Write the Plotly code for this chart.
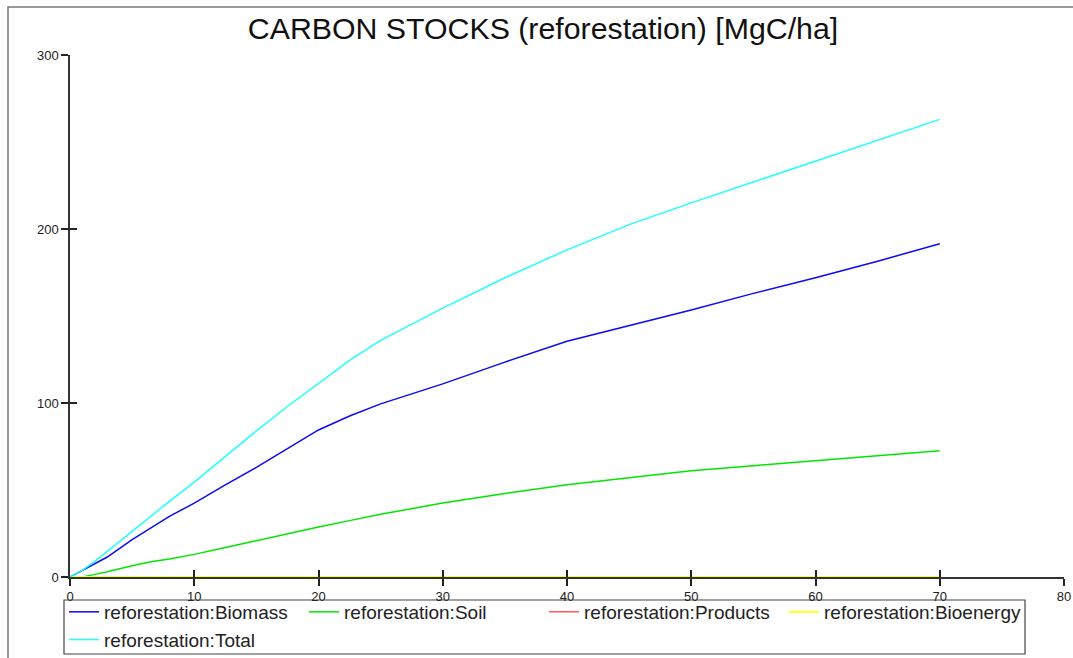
import plotly.graph_objects as go

years = [0, 1, 2, 3, 5, 6.5, 8, 10, 12.5, 15, 17.5, 20, 22.5, 25, 30, 35, 40, 45, 50, 55, 60, 65, 70]
biomass = [0, 3.8, 7.6, 11.5, 21.5, 28.3, 34.8, 42.5, 53, 63, 74, 84.5, 92.5, 99.5, 111, 123.5, 135.5, 144.5, 153.5, 163, 172, 181.5, 191.5]
soil = [0, 0, 1.5, 3, 6.5, 8.8, 10.3, 13, 17, 21, 24.8, 28.7, 32.4, 36, 42.5, 48, 53, 57, 61, 64, 67, 70, 72.6]
products = [0] * len(years)
bioenergy = [0] * len(years)
total = [0, 4, 9, 14.8, 26.5, 35, 43.5, 54.5, 69.5, 84, 98, 111.5, 124.5, 136, 154.5, 172, 188, 202.5, 215, 227, 239, 251, 263]

series_names = ["reforestation:Biomass", "reforestation:Soil", "reforestation:Products",
                "reforestation:Bioenergy", "reforestation:Total"]
series_values = [biomass, soil, products, bioenergy, total]
series_colors = ["#0a0af5", "#00e600", "#ff0000", "#ffff30", "#20ffff"]
series_widths = [1.5, 1.5, 1.0, 2.2, 1.5]

x_ticks = [0, 10, 20, 30, 40, 50, 60, 70, 80]
y_ticks = [0, 100, 200, 300]

fig = go.Figure()
for name, vals, col, w in zip(series_names, series_values, series_colors, series_widths):
    fig.add_trace(go.Scatter(x=years, y=vals, mode="lines", name=name,
                             line=dict(color=col, width=w), hoverinfo="skip"))

# helper trace for overlay axes (inside tick marks)
fig.add_trace(go.Scatter(x=years, y=products, xaxis="x2", yaxis="y2", mode="lines",
                         line=dict(width=0), opacity=0, showlegend=False, hoverinfo="skip"))

W, H = 1073, 658
ml, mr, mt, mb = 70, 9, 55, 81
pw, ph = W - ml - mr, H - mt - mb

def px_x(p):
    return (p - ml) / pw

def px_y(p):
    return (H - mb - p) / ph

FONT = "Liberation Sans, Arial, sans-serif"
axis_font = dict(family=FONT, size=13, color="#222")
common_x = dict(range=[0, 80], tickvals=x_ticks, showgrid=False, zeroline=False)
common_y = dict(range=[0, 300], tickvals=y_ticks, showgrid=False, zeroline=False)

fig.update_layout(
    width=W, height=H,
    margin=dict(l=ml, r=mr, t=mt, b=mb, autoexpand=False),
    paper_bgcolor="white", plot_bgcolor="white",
    title=dict(text="CARBON STOCKS (reforestation) [MgC/ha]",
               font=dict(family=FONT, size=30.3, color="#111"),
               x=543 / W, xanchor="center", xref="container",
               y=1 - 28 / H, yanchor="middle", yref="container"),
    xaxis=dict(**common_x, showline=True, linecolor="#333", linewidth=1.5,
               ticks="outside", ticklen=7, tickcolor="#222", tickwidth=1.5,
               tickfont=axis_font, layer="below traces"),
    yaxis=dict(**common_y, showline=True, linecolor="#333", linewidth=1.5,
               ticks="outside", ticklen=7, tickcolor="#222", tickwidth=1.5,
               tickfont=axis_font, layer="below traces"),
    xaxis2=dict(**common_x, overlaying="x", anchor="y", side="bottom",
                showline=False, ticks="inside", ticklen=7, tickcolor="#222",
                tickwidth=1.5, showticklabels=False),
    yaxis2=dict(**common_y, overlaying="y", anchor="x", side="left",
                showline=False, ticks="inside", ticklen=7, tickcolor="#222",
                tickwidth=1.5, showticklabels=False),
    legend=dict(orientation="h", xref="container", yref="container",
                x=64 / W, xanchor="left", y=1 - 593 / H, yanchor="top",
                borderwidth=0, bgcolor="rgba(0,0,0,0)",
                font=dict(family=FONT, size=19, color="#222"),
                itemwidth=30, entrywidth=195, entrywidthmode="pixels"),
    showlegend=True,
)

# outer window frame
fig.add_shape(type="rect", xref="paper", yref="paper",
              x0=px_x(8), x1=px_x(W + 10), y0=px_y(H + 10), y1=px_y(7),
              line=dict(color="#777", width=1.5), fillcolor="rgba(0,0,0,0)", layer="below")
# legend box
fig.add_shape(type="rect", xref="paper", yref="paper",
              x0=px_x(64), x1=px_x(1025), y0=px_y(654), y1=px_y(600),
              line=dict(color="#444", width=1.2), fillcolor="rgba(0,0,0,0)", layer="below")

fig.write_html("out.html", config={"displayModeBar": False},
               post_script="document.body.style.margin='0';document.body.style.overflow='hidden';")
